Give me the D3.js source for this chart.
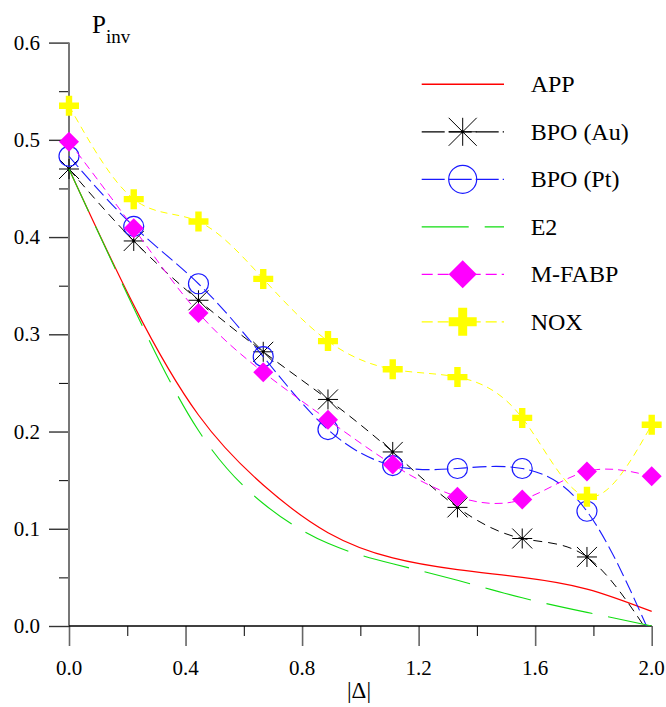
<!DOCTYPE html>
<html><head><meta charset="utf-8">
<script src="https://cdn.jsdelivr.net/npm/d3@7"></script>
<style>
body{margin:0;background:#fff;font-family:serif}
svg, svg text, svg tspan{font-family:serif}
</style>
</head><body>
<svg id="c" width="666" height="707"></svg>
<script>
// ---- data ----
const xVals = [0, 0.2222, 0.4444, 0.6667, 0.8889, 1.1111, 1.3333, 1.5556, 1.7778, 2.0];
const seriesNames = ["APP", "BPO (Au)", "BPO (Pt)", "E2", "M-FABP", "NOX"];
const appVals   = [0.470, 0.330, 0.217, 0.145, 0.096, 0.070, 0.058, 0.050, 0.038, 0.015];
const bpoAuVals = [0.470, 0.396, 0.335, 0.282, 0.233, 0.179, 0.122, 0.090, 0.071, -0.012];
const bpoPtVals = [0.483, 0.411, 0.352, 0.277, 0.202, 0.165, 0.162, 0.162, 0.118, -0.012];
const e2Vals    = [0.470, 0.327, 0.201, 0.126, 0.085, 0.064, 0.047, 0.029, 0.014, 0.000];
const mfabpVals = [0.498, 0.409, 0.322, 0.261, 0.212, 0.166, 0.133, 0.130, 0.159, 0.154];
const noxVals   = [0.535, 0.439, 0.416, 0.357, 0.293, 0.264, 0.256, 0.214, 0.133, 0.207];
const xMajorTicks = [0, 0.4, 0.8, 1.2, 1.6, 2.0];
const xMinorTicks = [0.2, 0.6, 1.0, 1.4, 1.8];
const xTickLabels = ["0.0", "0.4", "0.8", "1.2", "1.6", "2.0"];
const yMajorTicks = [0, 0.1, 0.2, 0.3, 0.4, 0.5, 0.6];
const yMinorTicks = [0.05, 0.15, 0.25, 0.35, 0.45, 0.55];
const yTickLabels = ["0.0", "0.1", "0.2", "0.3", "0.4", "0.5", "0.6"];

// ---- styles ----
const styles = [
  {color:"#ff0000", dash:null,   legDash:null,    marker:null,       width:1.2},
  {color:"#000000", dash:"9,6",  legDash:"23,4",  marker:"asterisk", width:1},
  {color:"#1a1aff", dash:"14,5", legDash:"23,4",  marker:"circle",   width:1.1},
  {color:"#11dd11", dash:"47,16",legDash:"47,16", marker:null,       width:1.1},
  {color:"#ff00ff", dash:"8,5",  legDash:"11,5",  marker:"diamond",  width:1},
  {color:"#ffff00", dash:"7,5",  legDash:"11,5",  marker:"plus",     width:1}
];
const allVals = [appVals, bpoAuVals, bpoPtVals, e2Vals, mfabpVals, noxVals];

const svg = d3.select("#c");
const x = d3.scaleLinear().domain([0, 2]).range([69, 651.7]);
const y = d3.scaleLinear().domain([0, 0.6]).range([626, 42.6]);

function txt(parent, tx, ty, size, str, anchor){
  return parent.append("text").attr("x",tx).attr("y",ty)
    .style("font-family","Liberation Serif").attr("font-size",size)
    .attr("text-anchor",anchor||"start").attr("fill","#000").text(str);
}

svg.append("defs").append("clipPath").attr("id","clip")
  .append("rect").attr("x",0).attr("y",0).attr("width",666).attr("height",y(0));

// axes (ticks via d3 axes, labels drawn as plain text)
const gx = svg.append("g").attr("transform",`translate(0,${y(0)})`);
gx.call(d3.axisBottom(x).tickValues(xMinorTicks).tickSize(10).tickFormat(""));
gx.call(g=>g.select(".domain").remove());
gx.selectAll("line").attr("stroke","#000").attr("stroke-width",1);
const gx2 = svg.append("g").attr("transform",`translate(0,${y(0)})`);
gx2.call(d3.axisBottom(x).tickValues(xMajorTicks).tickSize(20).tickFormat(""));
gx2.call(g=>g.select(".domain").remove());
gx2.selectAll("line").attr("stroke","#666").attr("stroke-width",1.6);

const gy = svg.append("g").attr("transform",`translate(${x(0)},0)`);
gy.call(d3.axisLeft(y).tickValues(yMinorTicks).tickSize(10).tickFormat(""));
gy.call(g=>g.select(".domain").remove());
gy.selectAll("line").attr("stroke","#000").attr("stroke-width",1);
const gy2 = svg.append("g").attr("transform",`translate(${x(0)},0)`);
gy2.call(d3.axisLeft(y).tickValues(yMajorTicks).tickSize(20).tickFormat(""));
gy2.call(g=>g.select(".domain").remove());
gy2.selectAll("line").attr("stroke","#333").attr("stroke-width",1.4);

const labels = svg.append("g");
xMajorTicks.forEach((v,i)=>txt(labels, x(v), 675, 21, xTickLabels[i], "middle"));
yMajorTicks.forEach((v,i)=>txt(labels, 40, y(v)+7, 21, yTickLabels[i], "end"));

svg.append("line").attr("x1",x(0)).attr("x2",x(0)).attr("y1",y(0.6)).attr("y2",y(0))
  .attr("stroke","#777").attr("stroke-width",2);
svg.append("line").attr("x1",x(0)).attr("x2",x(2)).attr("y1",y(0)).attr("y2",y(0))
  .attr("stroke","#000").attr("stroke-width",1.5);

// axis titles
const pt = txt(svg, 92, 33, 25, "");
pt.append("tspan").text("P");
pt.append("tspan").attr("font-size",19).attr("dy",10).text("inv");
txt(svg, 359, 698, 23, "|Δ|", "middle");

// markers
function drawMarker(g, type, cx, cy, s, color){
  if(type==="asterisk"){
    const p = `M${cx-s},${cy}H${cx+s}M${cx},${cy-s}V${cy+s}M${cx-s},${cy-s}L${cx+s},${cy+s}M${cx-s},${cy+s}L${cx+s},${cy-s}`;
    g.append("path").attr("d",p).attr("stroke",color).attr("stroke-width",1).attr("fill","none");
    g.append("circle").attr("cx",cx).attr("cy",cy).attr("r",1.6).attr("fill",color);
  } else if(type==="circle"){
    g.append("circle").attr("cx",cx).attr("cy",cy).attr("r",s).attr("fill","none")
      .attr("stroke",color).attr("stroke-width",1.2);
  } else if(type==="diamond"){
    g.append("path").attr("d",`M${cx},${cy-s}L${cx+s},${cy}L${cx},${cy+s}L${cx-s},${cy}Z`).attr("fill",color);
  } else if(type==="plus"){
    const t = s*0.32;
    g.append("path").attr("d",
      `M${cx-t},${cy-s}H${cx+t}V${cy-t}H${cx+s}V${cy+t}H${cx+t}V${cy+s}H${cx-t}V${cy+t}H${cx-s}V${cy-t}H${cx-t}Z`)
      .attr("fill",color);
  }
}

// series
const plot = svg.append("g").attr("clip-path","url(#clip)");
const line = d3.line().x(d=>x(d[0])).y(d=>y(d[1])).curve(d3.curveNatural);
allVals.forEach((vals,i)=>{
  const st = styles[i];
  const pts = xVals.map((xv,j)=>[xv, vals[j]]);
  const g = plot.append("g");
  g.append("path").attr("d",line(pts)).attr("fill","none").attr("stroke",st.color)
    .attr("stroke-width",st.width).attr("stroke-dasharray",st.dash);
  if(st.marker){
    pts.forEach(p=>drawMarker(g, st.marker, x(p[0]), y(p[1]), 10, st.color));
  }
});

// legend
const legY0 = 84.3, legStep = 47.5;
seriesNames.forEach((name,i)=>{
  const st = styles[i];
  const cy = legY0 + i*legStep;
  const g = svg.append("g");
  g.append("line").attr("x1",421.7).attr("x2",504).attr("y1",cy).attr("y2",cy)
    .attr("stroke",st.color).attr("stroke-width",st.width+0.2).attr("stroke-dasharray",st.legDash);
  if(st.marker) drawMarker(g, st.marker, 462.7, cy, 14, st.color);
  txt(g, 530.7, cy+8, 24, name);
});
</script>
</body></html>
